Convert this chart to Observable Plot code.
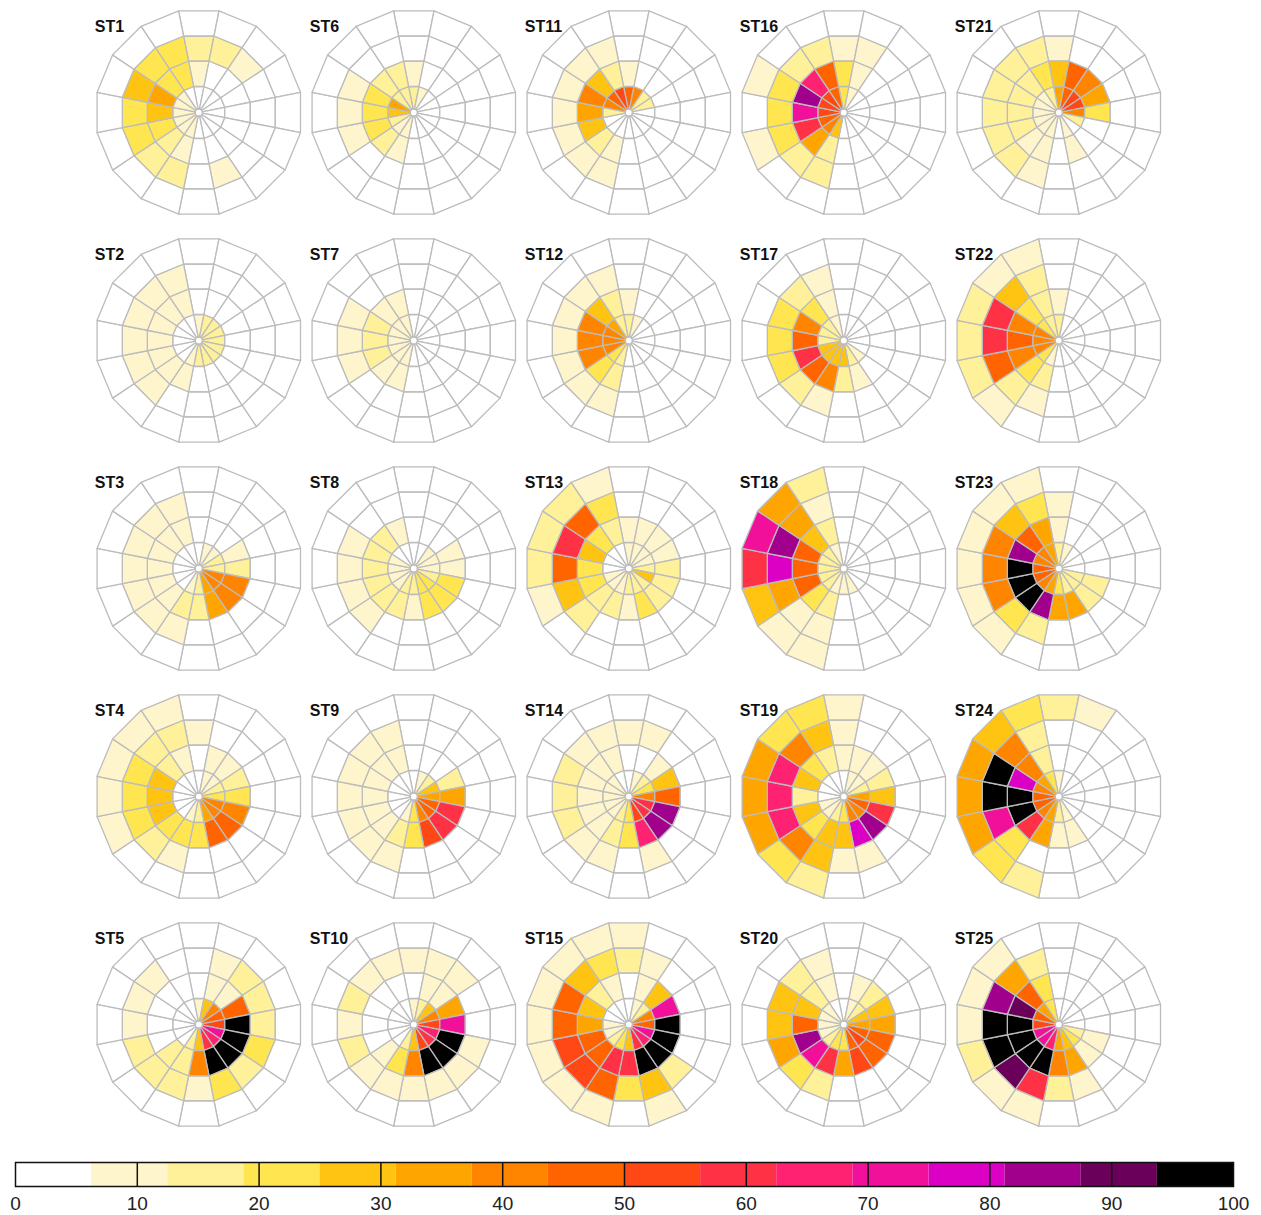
<!DOCTYPE html>
<html><head><meta charset="utf-8">
<script src="https://cdn.jsdelivr.net/npm/d3@7"></script>
<script src="https://cdn.jsdelivr.net/npm/@observablehq/plot@0.6"></script>
<style>
body{margin:0;background:#fff;font-family:"Liberation Sans",Arial,sans-serif;}
#chart svg{display:block;overflow:visible}
</style></head><body><div id="chart"></div>
<script>
// ---------- data ----------
const stationNames = ["ST1","ST2","ST3","ST4","ST5","ST6","ST7","ST8","ST9","ST10","ST11","ST12","ST13","ST14","ST15","ST16","ST17","ST18","ST19","ST20","ST21","ST22","ST23","ST24","ST25"];
const directions = ["N","NNE","NE","ENE","E","ESE","SE","SSE","S","SSW","SW","WSW","W","WNW","NW","NNW"];
const rings = ["ring 1","ring 2","ring 3","ring 4"]; // inner to outer
const colorThresholds = [6.25,12.5,18.75,25,31.25,37.5,43.75,50,56.25,62.5,68.75,75,81.25,87.5,93.75];
const colorRange = ["#ffffff","#fff5cc","#fff09a","#ffe650","#ffc412","#ffa500","#ff8400","#ff6400","#ff4815","#ff3245","#ff2272","#f0109a","#dc00c4","#a0008c","#6a005a","#000000"];
const legendTicks = [0,10,20,30,40,50,60,70,80,90,100];

// values per station: 4 rings (inner -> outer) x 16 directions (N clockwise)
const ST1 = [[2,2,2,2,2,2,2,2,2,9,9,9,9,9,9,2],[9,2,2,2,2,2,2,2,2,9,15,22,28,34,22,22],[15,15,9,2,2,2,2,9,2,15,15,22,22,28,22,22],[2,2,2,2,2,2,2,2,2,2,2,2,2,2,2,2]];
const ST2 = [[9,15,15,15,15,15,15,15,15,9,2,2,2,2,2,2],[2,2,2,2,2,2,2,2,2,9,9,9,9,9,9,9],[2,2,2,2,2,2,2,2,2,2,9,9,9,9,9,9],[2,2,2,2,2,2,2,2,2,2,2,2,2,2,2,2]];
const ST3 = [[2,9,9,15,15,41,41,34,15,9,2,2,2,2,2,2],[2,2,2,9,15,41,41,34,15,15,9,9,9,9,9,9],[2,2,2,2,2,2,2,2,2,9,9,9,9,9,9,9],[2,2,2,2,2,2,2,2,2,2,2,2,2,2,2,2]];
const ST4 = [[2,9,9,15,22,41,41,34,15,9,2,2,2,2,2,2],[2,9,9,15,22,41,47,47,22,22,22,28,28,28,15,9],[9,2,2,2,2,2,2,2,2,9,15,22,22,22,15,15],[2,2,2,2,2,2,2,2,2,2,2,9,9,9,9,9]];
const ST5 = [[9,28,41,47,53,72,66,59,28,15,2,2,2,2,2,2],[2,9,9,47,97,97,97,97,41,15,15,2,2,2,2,2],[2,9,15,15,15,22,15,22,9,15,15,15,9,9,9,2],[2,2,2,2,2,2,2,2,2,2,2,2,2,2,2,2]];
const ST6 = [[15,9,2,2,2,2,2,2,2,9,9,15,28,34,15,15],[9,2,2,2,2,2,2,2,2,9,15,22,22,22,15,15],[2,2,2,2,2,2,2,2,2,2,2,9,9,9,2,2],[2,2,2,2,2,2,2,2,2,2,2,2,2,2,2,2]];
const ST7 = [[2,2,2,2,2,2,2,2,2,9,9,9,9,9,9,9],[2,2,2,2,2,2,2,2,2,9,9,15,15,15,9,9],[2,2,2,2,2,2,2,2,2,2,2,9,9,9,2,2],[2,2,2,2,2,2,2,2,2,2,2,2,2,2,2,2]];
const ST8 = [[2,2,9,9,9,15,22,22,15,15,9,9,9,9,2,2],[2,2,2,9,9,22,22,22,9,15,15,15,15,15,15,9],[2,2,2,2,2,2,2,2,2,2,9,9,9,9,2,2],[2,2,2,2,2,2,2,2,2,2,2,2,2,2,2,2]];
const ST9 = [[2,9,15,28,34,47,47,41,22,9,2,2,2,2,2,2],[2,2,2,15,34,59,59,53,22,15,9,9,9,9,9,9],[2,2,2,2,2,2,2,2,2,9,9,9,9,9,9,9],[2,2,2,2,2,2,2,2,2,2,2,2,2,2,2,2]];
const ST10 = [[9,15,28,41,53,66,59,53,28,15,2,2,2,2,2,2],[2,9,9,34,72,97,97,97,41,22,9,2,2,2,2,2],[9,9,9,2,2,9,9,9,9,9,9,15,9,15,9,9],[2,2,2,2,2,2,2,2,2,2,2,2,2,2,2,2]];
const ST11 = [[47,41,15,15,2,2,2,2,2,2,2,2,15,41,47,53],[9,2,2,2,2,2,2,2,2,9,15,28,34,41,28,15],[2,2,2,2,2,2,2,2,2,9,9,9,9,9,9,9],[2,2,2,2,2,2,2,2,2,2,2,2,2,2,2,2]];
const ST12 = [[15,9,2,2,2,2,2,2,2,15,22,41,41,41,34,15],[9,2,2,2,2,2,2,2,2,15,22,41,41,41,28,15],[2,2,2,2,2,2,2,2,2,9,9,9,9,9,9,9],[2,2,2,2,2,2,2,2,2,2,2,2,2,2,2,2]];
const ST13 = [[9,9,9,9,15,28,15,15,15,9,9,9,2,2,2,2],[9,9,9,9,15,15,15,22,9,15,15,22,22,28,22,15],[2,2,2,2,2,2,2,2,2,2,15,28,47,59,47,22],[2,2,2,2,2,2,2,2,2,2,2,9,15,15,15,9]];
const ST14 = [[2,9,15,22,41,59,59,53,22,15,9,9,9,9,9,2],[2,2,9,28,47,84,84,66,22,15,9,9,9,9,9,9],[9,9,2,2,2,2,2,9,2,9,9,15,15,15,9,9],[2,2,2,2,2,2,2,2,2,2,2,2,2,2,2,2]];
const ST15 = [[2,9,15,41,47,72,66,59,28,22,15,9,9,2,2,2],[2,9,28,72,97,97,97,97,59,59,47,47,34,28,15,9],[15,9,2,2,2,2,15,28,22,47,53,53,47,47,28,22],[9,2,2,2,2,2,2,9,2,9,9,9,9,9,9,9]];
const ST16 = [[22,9,2,2,2,2,2,2,2,28,41,47,53,53,53,47],[22,9,2,2,2,2,2,2,2,15,34,59,72,84,66,47],[9,9,2,2,2,2,2,2,2,15,15,22,22,22,15,15],[2,2,2,2,2,2,2,2,2,2,2,9,2,9,2,2]];
const ST17 = [[2,2,2,2,2,2,9,15,28,28,28,28,15,15,15,9],[2,2,2,2,2,2,2,9,15,41,47,59,47,41,22,9],[2,2,2,2,2,2,2,2,2,9,15,22,22,22,15,9],[2,2,2,2,2,2,2,2,2,2,2,2,2,2,2,2]];
const ST18 = [[2,2,2,2,2,2,2,9,9,9,15,15,15,15,15,9],[2,2,2,2,2,2,2,2,2,15,22,47,47,47,28,15],[2,2,2,2,2,2,2,2,2,9,9,34,78,84,34,9],[2,2,2,2,2,2,2,2,2,9,9,28,59,72,34,15]];
const ST19 = [[2,9,9,15,34,47,41,41,22,15,9,9,2,2,2,2],[9,9,9,15,28,59,84,78,28,28,22,28,15,28,22,15],[9,2,2,2,2,2,2,9,9,28,41,66,66,66,41,28],[9,2,2,2,2,2,2,2,2,15,22,34,34,34,22,22]];
const ST20 = [[2,9,15,28,34,47,53,47,22,22,15,9,9,9,9,2],[2,9,15,28,34,47,47,53,34,59,72,84,47,28,15,9],[2,2,2,2,2,2,2,2,2,15,22,34,28,28,15,9],[2,2,2,2,2,2,2,2,2,2,2,2,2,2,2,2]];
const ST21 = [[34,47,53,53,41,15,2,9,2,9,9,9,9,9,9,15],[28,47,41,34,22,2,2,9,2,9,9,15,15,15,15,22],[9,2,2,2,2,2,2,2,2,9,15,15,15,15,15,15],[2,2,2,2,2,2,2,2,2,2,2,2,2,2,2,2]];
const ST22 = [[15,2,2,2,2,2,2,2,2,9,22,41,41,41,22,15],[9,2,2,2,2,2,2,2,2,15,22,41,47,41,22,15],[2,2,2,2,2,2,2,2,2,9,15,47,59,59,28,15],[2,2,2,2,2,2,2,2,2,2,9,15,15,15,9,9]];
const ST23 = [[15,9,2,2,2,15,15,15,22,34,41,47,47,41,41,34],[9,2,2,2,2,15,15,34,34,84,97,97,97,84,47,34],[9,2,2,2,2,2,2,2,2,15,22,41,41,41,28,22],[2,2,2,2,2,2,2,2,2,2,9,9,9,9,9,9]];
const ST24 = [[9,2,2,2,2,2,2,9,15,34,41,47,47,41,34,22],[2,2,2,2,2,2,2,9,9,34,59,97,97,78,41,15],[2,2,2,2,2,2,2,2,2,2,22,72,97,97,41,15],[15,9,2,2,2,2,2,2,2,15,22,34,34,34,28,22]];
const ST25 = [[2,2,2,2,2,15,22,28,34,66,72,72,53,47,34,22],[2,2,2,2,2,9,9,34,41,97,97,97,97,91,47,22],[2,2,2,2,2,2,2,9,15,59,91,97,97,84,34,15],[2,2,2,2,2,2,2,2,2,9,9,15,9,9,9,2]];
const stationValues = [ST1,ST2,ST3,ST4,ST5,ST6,ST7,ST8,ST9,ST10,ST11,ST12,ST13,ST14,ST15,ST16,ST17,ST18,ST19,ST20,ST21,ST22,ST23,ST24,ST25];

// ---------- layout ----------
const W = 1261, H = 1135, LH = 80;
const col0 = 198.3, row0 = 112, colStep = 215, rowStep = 228, perCol = 5;
const ringRadii = [3.5, 26.5, 52.5, 78, 103.7];
const sectorSpan = 360 / directions.length;
const gridStroke = "#bcbcbc";

const centers = stationNames.map((name, i) => ({
  name,
  cx: col0 + Math.floor(i / perCol) * colStep,
  cy: row0 + (i % perCol) * rowStep
}));

const features = [];
stationValues.forEach((ringVals, i) => {
  const {cx, cy, name} = centers[i];
  const pt = (rad, deg) => {
    const a = deg * Math.PI / 180;
    return [cx + rad * Math.sin(a), cy - rad * Math.cos(a)];
  };
  ringVals.forEach((vals, r) => {
    vals.forEach((v, k) => {
      const a0 = k * sectorSpan - sectorSpan / 2, a1 = k * sectorSpan + sectorSpan / 2;
      const r0 = ringRadii[r], r1 = ringRadii[r + 1];
      features.push({
        type: "Feature",
        properties: {station: name, direction: directions[k], ring: rings[r], value: v},
        geometry: {type: "Polygon", coordinates: [[pt(r0, a0), pt(r0, a1), pt(r1, a1), pt(r1, a0), pt(r0, a0)]]}
      });
    });
  });
});

const colorScale = {type: "threshold", domain: colorThresholds, range: colorRange};

const chart = Plot.plot({
  width: W, height: H, margin: 0,
  projection: {type: "identity", domain: {type: "MultiPoint", coordinates: [[0, 0], [W, H]]}},
  color: colorScale,
  style: {fontFamily: "'Liberation Sans', Arial, sans-serif", background: "white"},
  marks: [
    Plot.geo(features, {fill: d => d.properties.value, stroke: gridStroke, strokeWidth: 1.3}),
    Plot.dot(centers, {x: "cx", y: "cy", r: ringRadii[0], fill: "white", stroke: gridStroke, strokeWidth: 1.3}),
    Plot.text(centers, {x: d => d.cx - 104, y: d => d.cy - 86, text: "name", textAnchor: "start",
      fontWeight: "bold", fontSize: 16, fill: "#111"})
  ]
});

// ---------- colour bar ----------
const edges = [0, ...colorThresholds, 100];
const bins = colorRange.map((c, i) => ({x1: edges[i], x2: edges[i + 1], mid: (edges[i] + edges[i + 1]) / 2}));

const legend = Plot.plot({
  width: W, height: LH,
  marginLeft: 15, marginRight: 28, marginTop: 27, marginBottom: 29,
  x: {domain: [0, 100], ticks: legendTicks.length - 1, tickSize: 0, tickPadding: 10, label: null},
  y: {axis: null},
  color: colorScale,
  style: {fontFamily: "'Liberation Sans', Arial, sans-serif", fontSize: "19px", color: "#222", background: "white", overflow: "visible"},
  marks: [
    Plot.rect(bins, {x1: "x1", x2: "x2", fill: "mid"}),
    Plot.ruleX(legendTicks.slice(1, -1), {stroke: "#111", strokeWidth: 1.5}),
    Plot.frame({stroke: "#111", strokeWidth: 1.5})
  ]
});

document.getElementById("chart").append(chart, legend);
</script>
</body></html>
